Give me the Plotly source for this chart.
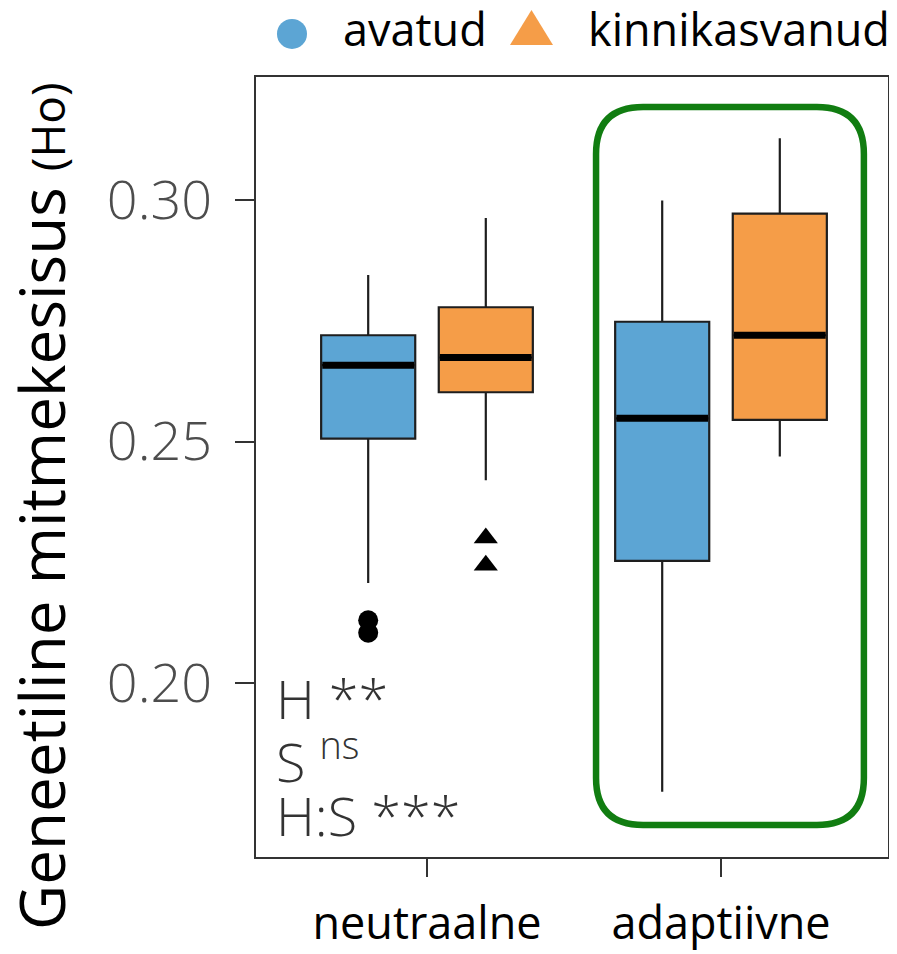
import plotly.graph_objects as go

# ---- data ----
groups = ["neutraalne", "adaptiivne"]
group_pos = [0, 1]
series = ["avatud", "kinnikasvanud"]

avatud_lowerfence = [0.2207, 0.1775]
avatud_q1 = [0.2506, 0.2253]
avatud_median = [0.2658, 0.2548]
avatud_q3 = [0.2720, 0.2748]
avatud_upperfence = [0.2845, 0.2999]
avatud_outliers_y = [0.2130, 0.2104]        # neutraalne
avatud_outliers_group = [0, 0]

kinni_lowerfence = [0.2420, 0.2469]
kinni_q1 = [0.2602, 0.2545]
kinni_median = [0.2674, 0.2720]
kinni_q3 = [0.2778, 0.2972]
kinni_upperfence = [0.2963, 0.3128]
kinni_outliers_y = [0.2300, 0.2244]         # neutraalne
kinni_outliers_group = [0, 0]

y_ticks = [0.20, 0.25, 0.30]
y_ticklabels = ["0.20", "0.25", "0.30"]

# ---- style ----
BLUE = "#5CA5D4"
ORANGE = "#F59D48"
GREEN = "#117D11"
DODGE = 0.2
BOXW = 0.32
FONT = "Open Sans"

fig = go.Figure()

def add_series(name, lf, q1, med, q3, uf, color, out_y, out_g, symbol, offset):
    xs = [p + offset for p in group_pos]
    fig.add_trace(go.Box(
        name=name, x=xs, q1=q1, median=med, q3=q3,
        lowerfence=lf, upperfence=uf,
        width=BOXW, whiskerwidth=0, boxpoints=False,
        fillcolor=color, line=dict(color="#1e1e1e", width=2.2),
        showlegend=False, hoverinfo="skip",
    ))
    # thick median lines
    mx, my = [], []
    for x, m in zip(xs, med):
        mx += [x - BOXW / 2 + 0.004, x + BOXW / 2 - 0.004, None]
        my += [m, m, None]
    fig.add_trace(go.Scatter(x=mx, y=my, mode="lines",
                             line=dict(color="black", width=7),
                             showlegend=False, hoverinfo="skip"))
    # outliers
    fig.add_trace(go.Scatter(
        x=[group_pos[g] + offset for g in out_g], y=out_y, mode="markers",
        marker=dict(symbol=symbol, color="black", size=20 if symbol == "circle" else 21,
                    line=dict(width=0)),
        showlegend=False, hoverinfo="skip"))

add_series(series[0], avatud_lowerfence, avatud_q1, avatud_median, avatud_q3,
           avatud_upperfence, BLUE, avatud_outliers_y, avatud_outliers_group,
           "circle", -DODGE)
add_series(series[1], kinni_lowerfence, kinni_q1, kinni_median, kinni_q3,
           kinni_upperfence, ORANGE, kinni_outliers_y, kinni_outliers_group,
           "triangle-up", DODGE)

# green rounded highlight around "adaptiivne"
x0, x1, yb, yt = 0.575, 1.486, 0.1706, 0.31925
rx, ry = 0.16, 0.00973
path = (f"M {x0+rx},{yt} L {x1-rx},{yt} Q {x1},{yt} {x1},{yt-ry} "
        f"L {x1},{yb+ry} Q {x1},{yb} {x1-rx},{yb} L {x0+rx},{yb} "
        f"Q {x0},{yb} {x0},{yb+ry} L {x0},{yt-ry} Q {x0},{yt} {x0+rx},{yt} Z")
fig.add_shape(type="path", path=path, xref="x", yref="y",
              line=dict(color=GREEN, width=6.5), fillcolor="rgba(0,0,0,0)")

# manual legend
fig.add_shape(type="circle", xref="paper", yref="paper",
              x0=0.0332, x1=0.0807, y0=1.0359, y1=1.0744,
              fillcolor=BLUE, line=dict(width=0))
fig.add_shape(type="path", xref="paper", yref="paper",
              path="M 0.4019,1.0410 L 0.4699,1.0410 L 0.4359,1.0859 Z",
              fillcolor=ORANGE, line=dict(width=0))
fig.add_annotation(text=series[0], xref="paper", yref="paper", x=0.135, y=1.062,
                   xanchor="left", yanchor="middle", showarrow=False,
                   font=dict(family=FONT, size=45, color="black"))
fig.add_annotation(text=series[1], xref="paper", yref="paper", x=0.522, y=1.062,
                   xanchor="left", yanchor="middle", showarrow=False,
                   font=dict(family=FONT, size=45, color="black"))

# y axis title
fig.add_annotation(
    text="Geneetiline mitmekesisus <span style='font-size:46px'>(Ho)</span>",
    xref="paper", yref="paper", x=-0.340, y=0.449, textangle=-90,
    xanchor="center", yanchor="middle", showarrow=False,
    font=dict(family=FONT, size=62, color="black"))

# significance annotations
sig_font = dict(family=FONT, size=54, color="#333333", weight=300)
fig.add_annotation(text="H **", xref="paper", yref="paper", x=0.028, y=(857 - 698) / 780,
                   xanchor="left", yanchor="middle", showarrow=False, font=sig_font)
fig.add_annotation(text="S <sup>ns</sup>", xref="paper", yref="paper", x=0.028, y=(857 - 758) / 780,
                   xanchor="left", yanchor="middle", showarrow=False, font=sig_font)
fig.add_annotation(text="H:S ***", xref="paper", yref="paper", x=0.028, y=(857 - 815) / 780,
                   xanchor="left", yanchor="middle", showarrow=False, font=sig_font)

# the page body adds an 8px offset; size the figure so the plot lands where intended
fig.update_layout(
    template="none",
    width=889, height=946,
    margin=dict(l=248, r=9, t=69, b=97, pad=0),
    paper_bgcolor="white", plot_bgcolor="white",
    showlegend=False,
    xaxis=dict(range=[-0.5816, 1.568], tickvals=group_pos, ticktext=groups,
               automargin=False,
               showgrid=False, zeroline=False, showline=True, mirror=True,
               linecolor="#333333", linewidth=2, ticks="outside", ticklen=18,
               tickwidth=2, tickcolor="#333333", ticklabelstandoff=8,
               tickfont=dict(family=FONT, size=45, color="black")),
    yaxis=dict(range=[0.16398, 0.32547], tickvals=y_ticks, ticktext=y_ticklabels,
               automargin=False,
               showgrid=False, zeroline=False, showline=True, mirror=True,
               linecolor="#333333", linewidth=2, ticks="outside", ticklen=19,
               tickwidth=2, tickcolor="#333333", ticklabelstandoff=12,
               tickfont=dict(family=FONT, size=54, color="#4d4d4d", weight=300)),
)

fig.write_html("out.html")
